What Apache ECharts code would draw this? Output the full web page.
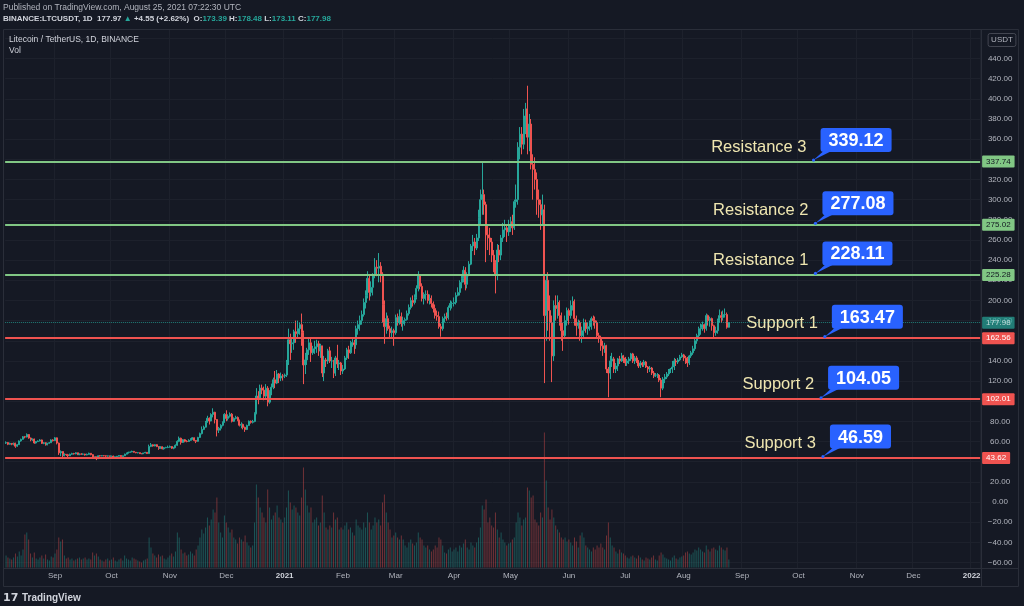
<!DOCTYPE html>
<html>
<head>
<meta charset="utf-8">
<script src="https://cdn.jsdelivr.net/npm/echarts/dist/echarts.min.js"></script>
<style>
html,body{margin:0;padding:0;background:#151924;}
#c{width:1024px;height:606px;}
</style>
</head>
<body>
<div id="c"></div>
<script>
// ---------- DATA (LTC/USDT daily, 2020-08-06 .. 2021-08-25) ----------
const startDate = '2020-08-06';
const dayCount = 518;               // categories shown on the time axis (to early Jan 2022)
const firstOpen = 58.5;             // open of the first candle; later opens = previous close

const closes = [
  59.0,57.3,58.2,57.4,58.3,55.4,56.9,60.6,62.2,64.8,64.5,67.0,63.5,61.8,62.6,58.6,60.0,60.5,61.6,58.2,58.8,56.8,58.3,58.8,61.6,60.9,
  63.7,58.5,48.8,50.1,46.0,47.4,46.9,45.9,47.4,48.1,47.8,48.9,47.0,47.6,47.5,47.6,46.7,47.3,48.4,47.0,44.3,44.9,43.0,45.9,45.8,46.0,45.9,45.6,45.8,45.5,
  45.6,44.6,44.9,45.5,46.2,45.1,45.9,47.5,48.5,49.3,49.7,50.3,49.4,48.9,49.0,48.0,47.9,48.7,49.3,48.1,55.2,56.8,55.6,56.9,55.1,53.3,54.9,52.8,53.9,54.2,54.3,
  55.1,53.4,54.2,56.3,60.2,63.3,59.2,61.9,60.3,60.1,61.2,62.4,63.8,61.1,60.2,64.1,67.9,72.1,74.3,79.1,83.2,80.4,86.9,89.1,81.9,71.3,73.2,76.1,79.3,87.0,
  83.0,85.1,87.2,80.1,83.0,84.0,81.1,76.2,77.0,74.1,72.0,76.0,80.2,79.1,80.0,88.1,105.2,103.0,113.1,111.0,105.1,113.0,99.1,109.2,114.0,121.3,118.0,127.1,123.0,125.1,125.0,
  126,138,161,157,158,169,167,172,176,168,136,141,151,158,148,152,154,157,150,155,128,141,140,150,140,140,128,143,137,138,130,
  132,143,151,148,158,158,156,172,176,180,186,198,205,222,208,213,225,233,232,234,226,196,174,182,172,168,170,168,
  183,178,184,177,180,181,187,193,200,198,203,212,225,214,202,206,206,200,202,197,192,185,184,174,172,182,184,183,193,197,197,
  198,205,208,218,222,230,216,225,236,254,258,252,262,282,300,305,295,265,262,258,245,238,225,250,245,262,270,272,268,275,
  278,272,298,300,352,365,355,383,390,362,375,335,330,320,300,295,285,290,185,220,190,178,145,195,192,198,185,170,165,180,190,
  185,195,199,182,175,178,165,170,178,172,174,178,182,180,178,165,163,155,152,155,132,128,140,142,132,135,142,140,145,143,
  138,140,142,147,140,143,140,135,138,136,139,134,132,133,128,125,126,126,121,113,122,124,127,130,132,134,140,139,141,144,146,
  143,142,138,145,148,152,160,165,172,173,176,172,185,180,182,175,168,170,180,185,183,186,186,173.39,177.98
];
const highs = [
  60.2,59.6,58.9,58.6,59.0,58.9,57.5,61.2,62.9,65.5,65.6,68.1,67.4,64.0,63.1,62.9,60.5,61.2,62.4,62.0,59.5,59.3,58.7,59.6,62.2,62.3,
  64.5,64.0,59.0,51.2,50.5,48.3,47.5,47.8,48.0,48.9,48.8,49.4,49.0,48.3,48.4,48.2,47.9,48.1,49.0,48.6,47.5,45.3,45.2,46.3,46.5,46.6,46.5,46.3,46.2,46.0,
  46.0,46.1,45.3,45.7,46.5,46.5,46.2,48.0,49.0,50.0,50.2,51.0,50.7,49.6,49.5,49.2,48.3,48.9,49.8,49.5,57.0,58.6,57.3,57.4,57.3,55.3,55.5,55.2,54.6,54.8,56.0,
  56.1,55.5,54.7,57.2,61.3,65.0,63.9,62.5,62.6,61.4,62.3,63.3,64.5,64.0,61.5,64.7,68.9,75.0,75.8,80.5,85.6,84.0,88.1,93.0,89.5,82.4,74.6,77.2,80.0,88.2,
  91.0,87.0,88.9,88.3,84.0,85.6,84.9,81.8,79.1,77.8,74.8,76.8,80.9,80.9,81.5,89.0,113.0,110.0,116.5,116.5,114.5,117.0,115.0,111.0,117.5,123.5,130.0,131.0,128.0,128.5,127.0,
  127.5,141,172,167,163,171,180,180,178,187,170,148,153,163,162,155,160,161,160,157,155,145,143,152,154,144,141,145,156,141,139,
  136,145,153,155,160,163,161,175,180,185,190,202,210,229,225,219,227,242,240,247,238,228,200,188,185,175,174,172,
  186,187,191,188,184,183,190,196,203,205,206,215,229,226,217,208,210,210,206,205,199,196,190,189,177,184,187,188,195,200,199,
  203,208,213,220,226,234,233,228,239,256,265,262,266,290,310,337,310,298,275,272,262,250,240,256,255,265,277,280,275,280,
  283,285,300,315,357,372,372,390,396,413,385,380,345,342,327,310,300,305,295,225,228,205,185,200,205,205,200,188,178,185,193,
  192,200,204,201,185,181,180,174,182,181,178,180,184,185,184,180,168,165,160,158,156,134,145,148,144,138,143,145,148,146,
  144,142,144,148,148,145,145,141,140,139,141,140,135,135,134,130,128,128,127,123,124,127,129,132,133,140,143,142,143,146,148,
  147,145,144,146,150,155,162,167,174,177,179,177,187,186,184,183,176,174,182,191,189,190,192,188,178.48
];
const lows = [
  57.6,56.5,56.9,56.4,56.3,53.8,54.8,56.6,59.9,61.8,63.2,64.1,62.8,60.3,60.7,57.9,58.0,59.5,60.2,57.6,57.4,56.0,56.3,57.9,58.6,60.1,
  60.5,57.2,46.8,45.5,44.0,45.4,45.8,44.5,45.6,46.9,47.1,47.4,46.6,46.5,46.9,46.8,46.1,46.4,47.0,46.4,43.1,43.6,41.6,42.7,45.1,45.4,45.4,44.8,45.0,44.9,
  44.9,43.9,44.5,44.6,45.2,44.8,45.0,45.6,47.3,48.3,49.0,49.4,49.1,48.4,48.3,47.7,47.5,47.7,48.5,47.8,48.0,54.5,55.0,55.3,54.5,51.8,52.7,52.3,52.0,53.4,53.5,
  53.9,52.7,52.4,53.5,55.8,59.4,57.0,58.6,59.3,59.3,59.6,60.8,61.8,60.3,58.5,59.8,63.6,67.1,71.4,73.9,78.7,76.9,80.1,84.0,78.0,65.1,68.5,71.0,75.1,78.6,
  80.2,80.8,83.8,79.0,79.5,82.0,80.2,75.0,73.2,72.1,69.6,71.4,75.4,77.8,78.0,79.2,87.0,97.0,102.0,107.0,101.0,102.5,95.0,97.5,106.0,112.0,113.0,117.0,118.0,120.0,120.5,
  123,124,136,141,148,151,158,163,166,155,117,127,136,146,139,146,147,148,145,143,124,120,134,137,138,133,123,125,133,131,126,
  127,131,141,142,147,154,147,152,166,170,176,184,192,202,200,204,205,222,224,218,218,178,157,167,170,163,162,155,
  166,175,176,174,170,175,180,185,191,194,196,201,209,211,199,196,200,197,196,193,188,182,180,172,164,170,178,180,181,190,192,
  194,196,204,205,212,218,210,212,224,235,249,245,250,259,275,285,285,238,250,245,238,228,207,220,238,240,258,263,258,264,
  268,265,270,292,295,340,345,350,365,345,348,330,300,310,285,282,270,275,118,160,170,160,119,140,180,182,175,160,150,162,175,
  176,182,190,175,165,172,160,158,162,168,166,170,171,175,172,162,158,150,145,148,128,104,122,134,128,128,130,137,139,138,
  135,135,137,140,138,137,138,133,133,134,134,133,128,129,126,123,124,123,119,104,111,118,122,125,128,128,131,135,137,140,143,
  140,137,134,136,143,146,150,157,163,166,170,168,170,175,174,170,163,165,167,178,178,180,183,172,173.11
];
// volume, in units of 20k LTC
const volumes = [
  12,10,9,8,10,14,11,16,12,18,33,35,28,14,10,15,9,8,10,12,9,13,8,7,11,10,
  14,18,30,26,28,12,9,10,8,9,7,8,9,10,8,9,10,8,9,8,15,12,14,11,8,7,6,8,9,7,
  8,10,7,6,8,9,7,12,9,8,7,10,9,8,7,6,5,7,8,9,30,20,14,12,10,13,11,12,9,8,10,
  12,14,11,16,35,30,18,14,15,12,13,16,14,12,18,22,30,38,34,40,50,42,48,58,55,70,45,35,30,52,
  45,40,35,38,30,28,24,30,28,26,32,25,22,20,22,45,83,70,60,55,50,45,78,60,48,52,55,62,50,48,45,
  50,60,77,65,58,62,60,55,52,70,100,78,62,55,60,45,48,50,42,45,72,55,40,38,42,40,55,48,50,38,40,
  38,42,45,38,40,35,32,48,42,40,38,45,40,55,45,38,42,50,45,48,42,65,73,55,45,38,30,32,
  35,30,28,32,28,22,20,25,28,24,22,25,35,30,28,22,20,22,18,16,18,22,20,30,28,22,15,14,18,20,16,
  18,20,16,22,20,24,28,20,18,25,22,20,25,30,40,62,58,68,45,50,42,40,55,38,30,35,28,25,22,24,
  25,28,30,45,55,50,42,48,50,80,77,70,72,48,45,42,55,50,135,87,60,48,58,50,42,38,35,30,28,30,26,
  28,25,22,30,26,20,32,35,30,22,20,18,16,20,18,22,20,24,20,18,32,45,30,22,20,16,14,18,15,14,
  12,10,9,11,12,10,9,12,10,8,7,10,9,8,10,12,8,7,12,15,13,10,9,8,7,10,12,9,8,10,11,
  12,15,16,14,13,15,18,17,20,18,16,15,22,18,16,19,20,18,17,22,20,18,17,20,8
];

const tickDates  = ['2020-09-01','2020-10-01','2020-11-01','2020-12-01','2021-01-01','2021-02-01','2021-03-01','2021-04-01','2021-05-01','2021-06-01','2021-07-01','2021-08-01','2021-09-01','2021-10-01','2021-11-01','2021-12-01','2022-01-01'];
const tickLabels = ['Sep','Oct','Nov','Dec','2021','Feb','Mar','Apr','May','Jun','Jul','Aug','Sep','Oct','Nov','Dec','2022'];

const levelNames    = ['Resistance 3','Resistance 2','Resistance 1','Support 1','Support 2','Support 3'];
const levelLines    = [337.74, 275.02, 225.28, 162.56, 102.01, 43.62];
const levelCallouts = [339.12, 277.08, 228.11, 163.47, 104.05, 46.59];
const levelKinds    = ['res','res','res','sup','sup','sup'];
const anchorDates   = ['2021-10-09','2021-10-10','2021-10-10','2021-10-15','2021-10-13','2021-10-14'];
const lastPrice = 177.98;

// ---------- STYLE ----------
const BG = '#151924';
const UP = '#26a69a', DOWN = '#ef5350';
const UPV = 'rgba(38,166,154,0.42)', DOWNV = 'rgba(239,83,80,0.42)';
const GREEN = '#81c784', RED = '#ef5350';
const GRIDC = '#1d212c';
const TXT = '#b2b5be';
const FONT = '"Liberation Sans", Arial, sans-serif';

// ---------- BUILD ----------
const t0 = Date.parse(startDate + 'T00:00:00Z');
const days = [];
for (let i = 0; i < dayCount; i++) days.push(new Date(t0 + i * 86400000).toISOString().slice(0, 10));

const candles = [], vols = [];
for (let i = 0; i < closes.length; i++) {
  const o = i ? closes[i - 1] : firstOpen;
  const c = closes[i];
  const h = Math.max(highs[i], o, c);
  const l = Math.min(lows[i], o, c);
  candles.push([o, c, l, h]);
  vols.push({ value: volumes[i], itemStyle: { color: c >= o ? UPV : DOWNV } });
}

const isTick = (idx, v) => tickDates.indexOf(v) >= 0;

const lineData = levelLines.map((v, i) => {
  const col = levelKinds[i] === 'res' ? GREEN : RED;
  return {
    yAxis: v,
    lineStyle: { color: col, width: 2, type: 'solid' },
    label: {
      show: true, position: 'end', distance: 2,
      formatter: () => v.toFixed(2),
      backgroundColor: col, color: levelKinds[i] === 'res' ? '#131722' : '#ffffff',
      padding: [2, 4, 2, 4], fontSize: 8, fontFamily: FONT, borderRadius: 1
    }
  };
});
lineData.push({
  yAxis: lastPrice,
  lineStyle: { color: UP, width: 1, type: 'dotted', opacity: 0.7 },
  label: {
    show: true, position: 'end', distance: 2,
    formatter: () => lastPrice.toFixed(2),
    backgroundColor: UP, color: '#ffffff',
    padding: [2, 4, 2, 4], fontSize: 8, fontFamily: FONT, borderRadius: 1
  }
});

const chart = echarts.init(document.getElementById('c'), null, { renderer: 'canvas' });

const option = {
  backgroundColor: BG,
  animation: false,
  grid: { left: 5.12, width: 975, top: 18.2, height: 564.5, containLabel: false, outerBoundsMode: 'none' },
  xAxis: [
    {
      type: 'category', data: days, boundaryGap: true,
      axisLine: { show: false }, axisTick: { show: false }, axisLabel: { show: false },
      splitLine: { show: true, interval: isTick, lineStyle: { color: GRIDC, width: 1 } }
    },
    {
      type: 'category', data: days, boundaryGap: true, position: 'bottom', z: 10,
      axisLine: { show: false }, axisTick: { show: false }, splitLine: { show: false },
      axisLabel: {
        show: true, interval: isTick, margin: -11,
        color: TXT, fontSize: 8, fontFamily: FONT,
        formatter: v => {
          const k = tickDates.indexOf(v);
          if (k < 0) return '';
          const s = tickLabels[k];
          return /^\d{4}$/.test(s) ? '{y|' + s + '}' : s;
        },
        rich: { y: { fontWeight: 'bold', color: '#d1d4dc', fontSize: 8, fontFamily: FONT } }
      }
    }
  ],
  yAxis: [
    {
      type: 'value', position: 'right', min: -80, max: 480, interval: 20,
      axisLine: { show: false }, axisTick: { show: false },
      splitLine: { show: true, lineStyle: { color: GRIDC, width: 1 } },
      axisLabel: {
        margin: 20, align: 'center', color: TXT, fontSize: 8, fontFamily: FONT,
        formatter: v => (v >= -60 && v <= 440) ? v.toFixed(2).replace('-', '\u2212') : ''
      }
    },
    { type: 'value', min: -15.1, max: 549.4, show: false, splitLine: { show: false } }
  ],
  series: [
    {
      name: 'Vol', type: 'bar', xAxisIndex: 0, yAxisIndex: 1,
      data: vols, barWidth: 1, z: 1, silent: true
    },
    {
      name: 'LTCUSDT', type: 'candlestick', xAxisIndex: 0, yAxisIndex: 0,
      data: candles, barWidth: 1.5, z: 3, silent: true,
      itemStyle: { color: UP, color0: DOWN, borderColor: UP, borderColor0: DOWN, borderWidth: 1 },
      markLine: { symbol: ['none', 'none'], silent: true, animation: false, data: lineData }
    }
  ]
};
chart.setOption(option);

// ---------- DECORATION / CALLOUTS ----------
const g = [];
g.push({ type: 'rect', shape: { x: 0, y: 0, width: 1024, height: 29 }, style: { fill: BG }, z: 5, silent: true });
g.push({ type: 'rect', shape: { x: 0, y: 568.5, width: 1024, height: 38 }, style: { fill: BG }, z: 5, silent: true });
g.push({ type: 'rect', shape: { x: 3.5, y: 29.5, width: 1015, height: 557 }, style: { fill: 'none', stroke: '#2a2e39', lineWidth: 1 }, z: 6, silent: true });
g.push({ type: 'line', shape: { x1: 981.5, y1: 29.5, x2: 981.5, y2: 586.5 }, style: { stroke: '#2a2e39', lineWidth: 1 }, z: 6, silent: true });
g.push({ type: 'line', shape: { x1: 3.5, y1: 568.5, x2: 1018.5, y2: 568.5 }, style: { stroke: '#2a2e39', lineWidth: 1 }, z: 6, silent: true });

function txt(x, y, text, font, fill, extra) {
  return Object.assign({
    type: 'text', x: x, y: y, z: 20, silent: true,
    style: Object.assign({ text: text, font: font, fill: fill, align: 'left', textAlign: 'left', verticalAlign: 'middle', textVerticalAlign: 'middle' }, extra || {})
  });
}
g.push(txt(3, 8, 'Published on TradingView.com, August 25, 2021 07:22:30 UTC', '8.5px ' + FONT, TXT));
g.push({
  type: 'text', x: 3, y: 19, z: 20, silent: true,
  style: {
    text: '{b|BINANCE:LTCUSDT, 1D  177.97 }{t|\u25B2 }{b|+4.55 (+2.62%)  O:}{t|173.39 }{b|H:}{t|178.48 }{b|L:}{t|173.11 }{b|C:}{t|177.98}',
    align: 'left', textAlign: 'left', verticalAlign: 'middle', textVerticalAlign: 'middle',
    rich: {
      b: { fill: '#d1d4dc', fontWeight: 'bold', fontSize: 8, fontFamily: FONT },
      t: { fill: UP, fontWeight: 'bold', fontSize: 8, fontFamily: FONT }
    }
  }
});
g.push(txt(9, 40, 'Litecoin / TetherUS, 1D, BINANCE', '8.5px ' + FONT, '#d1d4dc'));
g.push(txt(9, 51, 'Vol', '8.5px ' + FONT, '#d1d4dc'));
g.push(txt(1002, 40, 'USDT', '8px ' + FONT, TXT, { align: 'center', textAlign: 'center', borderColor: '#434651', borderWidth: 1, borderRadius: 2, padding: [3, 3, 2, 3] }));
g.push(txt(3, 598, '17', 'bold 11px "DejaVu Sans", sans-serif', '#d1d4dc'));
g.push(txt(22, 598, 'TradingView', 'bold 10px ' + FONT, '#d1d4dc'));

for (let i = 0; i < levelNames.length; i++) {
  const p = chart.convertToPixel({ xAxisIndex: 0, yAxisIndex: 0 }, [anchorDates[i], levelLines[i]]);
  const ax = p[0], ay = p[1] - 1.5;
  const bx = ax + 7, by = ay - 8;
  g.push(txt(ax - 7, ay - 13, levelNames[i], '16.5px ' + FONT, '#efe6b0', { align: 'right', textAlign: 'right' }));
  g.push({ type: 'polygon', z: 15, silent: true, shape: { points: [[bx + 3, by - 1], [bx + 11, by - 1], [ax, ay]] }, style: { fill: '#2962ff' } });
  g.push({ type: 'circle', z: 15, silent: true, shape: { cx: ax, cy: ay, r: 1.6 }, style: { fill: '#2962ff' } });
  g.push({
    type: 'text', x: bx, y: by, z: 16, silent: true,
    style: {
      text: levelCallouts[i].toFixed(2), font: 'bold 18px ' + FONT, fill: '#ffffff',
      align: 'left', textAlign: 'left', verticalAlign: 'bottom', textVerticalAlign: 'bottom',
      backgroundColor: '#2962ff', padding: [4, 8, 2, 8], borderRadius: 3
    }
  });
}
chart.setOption({ graphic: { elements: g } });
</script>
</body>
</html>
